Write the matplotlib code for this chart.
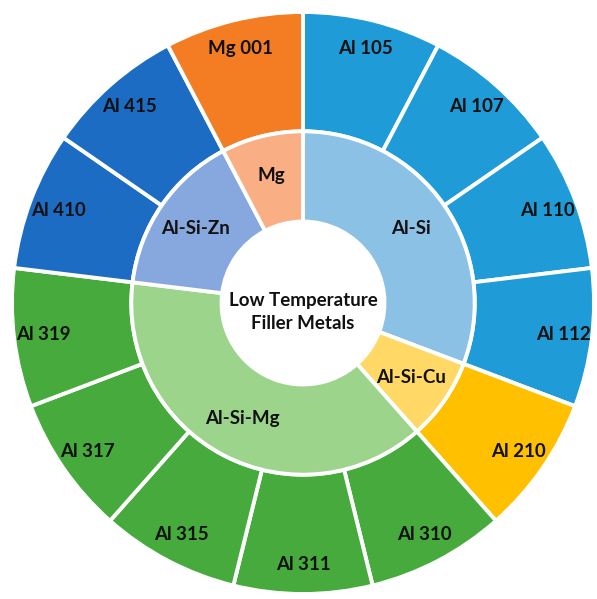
import numpy as np
import matplotlib.pyplot as plt

# alloy families (inner ring) and the filler metals in each (outer ring)
groups = ['Al-Si', 'Al-Si-Cu', 'Al-Si-Mg', 'Al-Si-Zn', 'Mg']
members = [
    ['Al 105', 'Al 107', 'Al 110', 'Al 112'],
    ['Al 210'],
    ['Al 310', 'Al 311', 'Al 315', 'Al 317', 'Al 319'],
    ['Al 410', 'Al 415'],
    ['Mg 001'],
]
center_title = 'Low Temperature\nFiller Metals'

outer_colors = ['#1f9bd7', '#ffc000', '#46ab3c', '#1c6cc4', '#f47d24']
inner_colors = ['#8cc1e6', '#ffd866', '#9dd48c', '#86a8df', '#f9ae84']

outer_labels = [m for grp in members for m in grp]
outer_vals = np.ones(len(outer_labels))
outer_cols = [c for c, grp in zip(outer_colors, members) for _ in grp]
inner_vals = [len(grp) for grp in members]

plt.rcParams['font.family'] = ['Lato', 'DejaVu Sans']

fig = plt.figure(figsize=(5.97, 5.99), dpi=100)
ax = fig.add_axes([0, 0, 1, 1])

r_out, r_mid, r_hole = 1.0, 0.59, 0.28
edge = dict(edgecolor='white', linewidth=2.8)

w_out, _ = ax.pie(outer_vals, radius=r_out, colors=outer_cols,
                  startangle=90, counterclock=False,
                  wedgeprops=dict(width=r_out - r_mid, **edge))
w_in, _ = ax.pie(inner_vals, radius=r_mid, colors=inner_colors,
                 startangle=90, counterclock=False,
                 wedgeprops=dict(width=r_mid - r_hole, **edge))


def put_labels(wedges, labels, r):
    for w, lab in zip(wedges, labels):
        ang = np.deg2rad((w.theta1 + w.theta2) / 2)
        ax.text(r * np.cos(ang), r * np.sin(ang), lab,
                ha='center', va='center', fontsize=13.5,
                fontweight='bold', color='#111111')


put_labels(w_out, outer_labels, 0.9)
put_labels(w_in, groups, 0.45)

ax.text(0, -0.03, center_title, ha='center', va='center',
        fontsize=13.5, fontweight='bold', color='#111111',
        linespacing=1.4)

ax.set_xlim(-303 / 291, 294 / 291)
ax.set_ylim(-296 / 291, 303 / 291)
ax.set_aspect('equal')
ax.axis('off')

fig.savefig('out.png', dpi=100, facecolor='white')
